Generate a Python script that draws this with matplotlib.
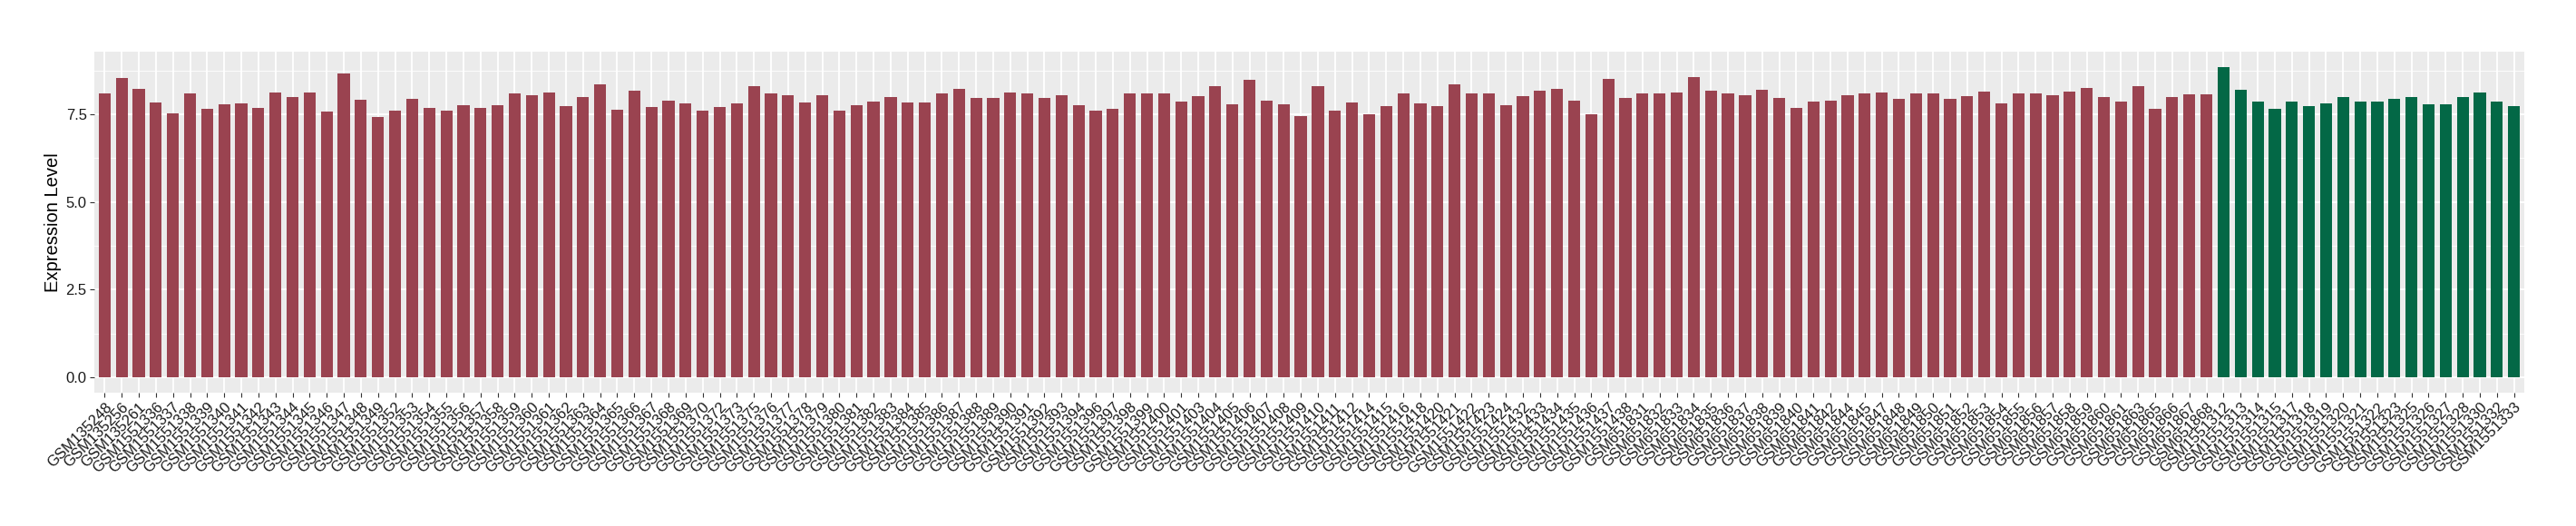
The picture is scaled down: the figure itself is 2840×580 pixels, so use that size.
import matplotlib
matplotlib.use("Agg")
import matplotlib.pyplot as plt
from matplotlib.ticker import MultipleLocator

plt.rcParams["font.family"] = ["Liberation Sans", "DejaVu Sans"]

# sample names and expression levels, group 1 (red) then group 2 (green)
samples_a = (
    ["GSM135248", "GSM135256", "GSM135261"]
    + ["GSM15513%d" % i for i in range(36, 50)]
    + ["GSM15513%d" % i for i in range(52, 71)]
    + ["GSM1551372", "GSM1551373"]
    + ["GSM15513%d" % i for i in range(75, 95)]
    + ["GSM15513%d" % i for i in range(96, 100)]
    + ["GSM1551400", "GSM1551401"]
    + ["GSM15514%02d" % i for i in range(3, 13)]
    + ["GSM1551414", "GSM1551415", "GSM1551416", "GSM1551418"]
    + ["GSM15514%d" % i for i in range(20, 25)]
    + ["GSM15514%d" % i for i in range(32, 39)]
    + ["GSM6518%d" % i for i in range(31, 43)]
    + ["GSM651844", "GSM651845"]
    + ["GSM6518%d" % i for i in range(47, 62)]
    + ["GSM651863", "GSM651865", "GSM651866", "GSM651867", "GSM651868"]
)
values_a = [
    8.10, 8.52, 8.23, 7.84, 7.53, 8.08, 7.66, 7.79, 7.81, 7.68,
    8.13, 8.00, 8.13, 7.58, 8.65, 7.92, 7.42, 7.60, 7.95, 7.68,
    7.60, 7.76, 7.68, 7.76, 8.08, 8.05, 8.13, 7.74, 8.00, 8.34,
    7.63, 8.16, 7.71, 7.89, 7.81, 7.60, 7.71, 7.81, 8.29, 8.10,
    8.05, 7.84, 8.05, 7.60, 7.76, 7.87, 8.00,
    7.84, 7.84, 8.10, 8.23, 7.97, 7.97, 8.13, 8.10, 7.97, 8.05,
    7.76, 7.60, 7.66, 8.10, 8.08, 8.08, 7.87, 8.02, 8.31, 7.79,
    8.47, 7.89, 7.79, 7.45, 8.29, 7.60, 7.84, 7.50, 7.74, 8.10,
    7.81, 7.74, 8.34, 8.08, 8.08, 7.76, 8.02, 8.16, 8.21, 7.89,
    7.50, 8.50, 7.97, 8.08, 8.10, 8.13, 8.56, 8.16,
    8.10, 8.05, 8.20, 7.97, 7.68, 7.85, 7.88, 8.05, 8.08, 8.12,
    7.95, 8.10, 8.08, 7.95, 8.02, 8.15, 7.80, 8.08, 8.10, 8.05,
    8.15, 8.25, 8.00, 7.85, 8.30,
    7.64, 7.98, 8.06, 8.06,
]
samples_b = ["GSM15513%d" % i for i in
             [12, 13, 14, 15, 17, 18, 19, 20, 21, 22, 23, 25, 26, 27, 28, 30, 32, 33]]
values_b = [8.84, 8.19, 7.87, 7.64, 7.87, 7.74, 7.80, 7.98, 7.87, 7.85,
            7.93, 7.98, 7.77, 7.77, 8.00, 8.13, 7.87, 7.72]

red = "#9A4350"
green = "#036846"

labels = samples_a + samples_b
values = values_a + values_b
colors = [red] * len(values_a) + [green] * len(values_b)
x = list(range(len(labels)))

fig = plt.figure(figsize=(28.4, 5.8), dpi=100)
ax = fig.add_axes([104 / 2840, 1 - 433 / 580, (2783 - 104) / 2840, (433 - 57) / 580])

ax.bar(x, values, width=0.7, color=colors, zorder=3)

ax.set_facecolor("#EBEBEB")
for s in ax.spines.values():
    s.set_visible(False)
ax.set_xlim(-0.6, len(labels) - 1 + 0.6)
top = max(values)
ax.set_ylim(-0.05 * top, 1.05 * top)
ax.yaxis.set_minor_locator(MultipleLocator(1.25))
ax.set_yticks([0, 2.5, 5, 7.5])
ax.set_yticklabels(["0.0", "2.5", "5.0", "7.5"])
ax.set_xticks(x)
ax.set_xticklabels(labels, rotation=45, ha="right", rotation_mode="anchor")

ax.grid(which="major", color="white", linewidth=1.3, zorder=0)
ax.grid(which="minor", axis="y", color="white", linewidth=0.6, zorder=0)
ax.tick_params(axis="both", which="major", length=3.5, width=0.8, color="#333333",
               labelsize=12, labelcolor="#1a1a1a", pad=2.5)
ax.tick_params(axis="y", which="minor", length=0)

ax.set_ylabel("Expression Level", fontsize=14.5, labelpad=3)

fig.savefig("out.png", dpi=100, facecolor="white")
